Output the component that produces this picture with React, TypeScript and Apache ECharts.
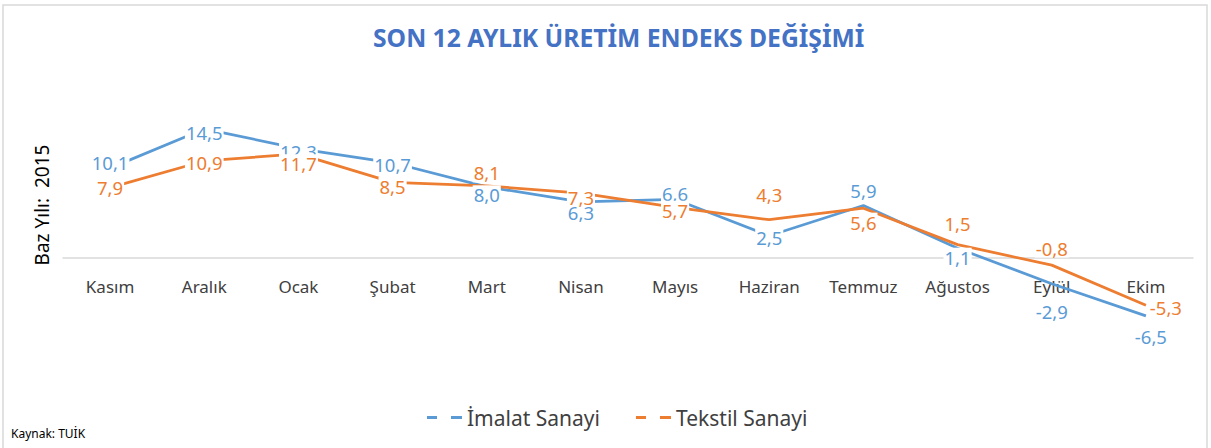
import React, { useEffect, useRef } from "react";
import * as echarts from "echarts";

const categories = ["Kasım", "Aralık", "Ocak", "Şubat", "Mart", "Nisan", "Mayıs", "Haziran", "Temmuz", "Ağustos", "Eylül", "Ekim"];
const imalatSanayi = [10.1, 14.5, 12.3, 10.7, 8.0, 6.3, 6.6, 2.5, 5.9, 1.1, -2.9, -6.5];
const tekstilSanayi = [7.9, 10.9, 11.7, 8.5, 8.1, 7.3, 5.7, 4.3, 5.6, 1.5, -0.8, -5.3];

// label offsets (styling only) [dx, dy]
const imalatLabelOffsets = [[0, -6], [0, 4], [0, 3], [0, 2], [0, 8], [0, 11], [0, -6], [0, 2], [0, -15], [0, 9], [0, 28], [5, 21]];
const tekstilLabelOffsets = [[0, 0], [0, 2], [0, 10], [0, 4], [0, -13], [0, 4], [0, 3], [0, -25], [0, 14], [0, -21], [0, -17], [20, 2]];

const BLUE = "#5B9BD5";
const ORANGE = "#ED7D31";
const FONT = "'Noto Sans', sans-serif";

const fmt = (p: any) => Number(p.value).toFixed(1).replace(".", ",");

export default function App() {
  const ref = useRef<HTMLDivElement>(null);
  useEffect(() => {
    if (!ref.current) return;
    const chart = echarts.init(ref.current, null, { renderer: "svg" });
    const mkSeries = (name: string, data: number[], offsets: number[][], color: string) => ({
      name,
      type: "line",
      data: data.map((v, i) => ({ value: v, label: { offset: offsets[i] } })),
      symbol: "circle",
      symbolSize: 0.1,
      lineStyle: { color, width: 2.75 },
      itemStyle: { color },
      label: {
        show: true,
        position: "inside",
        formatter: fmt,
        color,
        fontFamily: FONT,
        fontSize: 18.5,
        backgroundColor: "#ffffff",
        padding: [0, 1],
      },
    });
    chart.setOption({
      animation: false,
      backgroundColor: "#ffffff",
      textStyle: { fontFamily: FONT },
      title: {
        text: "SON 12 AYLIK ÜRETİM ENDEKS DEĞİŞİMİ",
        left: 368,
        top: 20,
        textStyle: { color: "#4472C4", fontSize: 24.7, fontWeight: "bold", fontFamily: FONT },
      },
      legend: {
        top: 402,
        left: 422,
        itemWidth: 35,
        itemHeight: 3,
        itemGap: 36,
        textStyle: { color: "#404040", fontSize: 21, fontFamily: FONT },
        data: [
          { name: "İmalat Sanayi", icon: "path://M0,0H10V3H0Z M24,0H35V3H24Z", itemStyle: { color: BLUE } },
          { name: "Tekstil Sanayi", icon: "path://M0,0H10V3H0Z M24,0H35V3H24Z", itemStyle: { color: ORANGE } },
        ],
      },
      grid: { left: 63, right: 18, top: 124.5, bottom: 101 },
      xAxis: {
        type: "category",
        data: categories,
        boundaryGap: true,
        offset: -89,
        axisLine: { onZero: false, lineStyle: { color: "#d9d9d9", width: 1.5 } },
        axisTick: { show: false },
        axisLabel: { color: "#404040", fontSize: 17, margin: 20, fontFamily: FONT },
        splitLine: { show: false },
      },
      yAxis: {
        type: "value",
        min: -10,
        max: 15,
        axisLine: { show: false },
        axisTick: { show: false },
        axisLabel: { show: false },
        splitLine: { show: false },
      },
      graphic: [
        {
          type: "rect",
          shape: { x: 3, y: 5, width: 1204, height: 460 },
          style: { fill: "none", stroke: "#d9d9d9", lineWidth: 1.5 },
          silent: true,
        },
        {
          type: "text",
          x: 42,
          y: 205,
          rotation: Math.PI / 2,
          style: {
            text: "Baz Yılı:  2015",
            fill: "#000000",
            font: `19px ${FONT}`,
            align: "center",
            verticalAlign: "middle",
          },
        },
        {
          type: "text",
          x: 11,
          y: 433,
          style: {
            text: "Kaynak: TUİK",
            fill: "#000000",
            font: `12px ${FONT}`,
            align: "left",
            verticalAlign: "middle",
          },
        },
      ],
      series: [
        mkSeries("İmalat Sanayi", imalatSanayi, imalatLabelOffsets, BLUE),
        mkSeries("Tekstil Sanayi", tekstilSanayi, tekstilLabelOffsets, ORANGE),
      ],
    });
    return () => chart.dispose();
  }, []);
  return <div ref={ref} style={{ position: "absolute", left: 0, top: 0, width: 1211, height: 448 }} />;
}
